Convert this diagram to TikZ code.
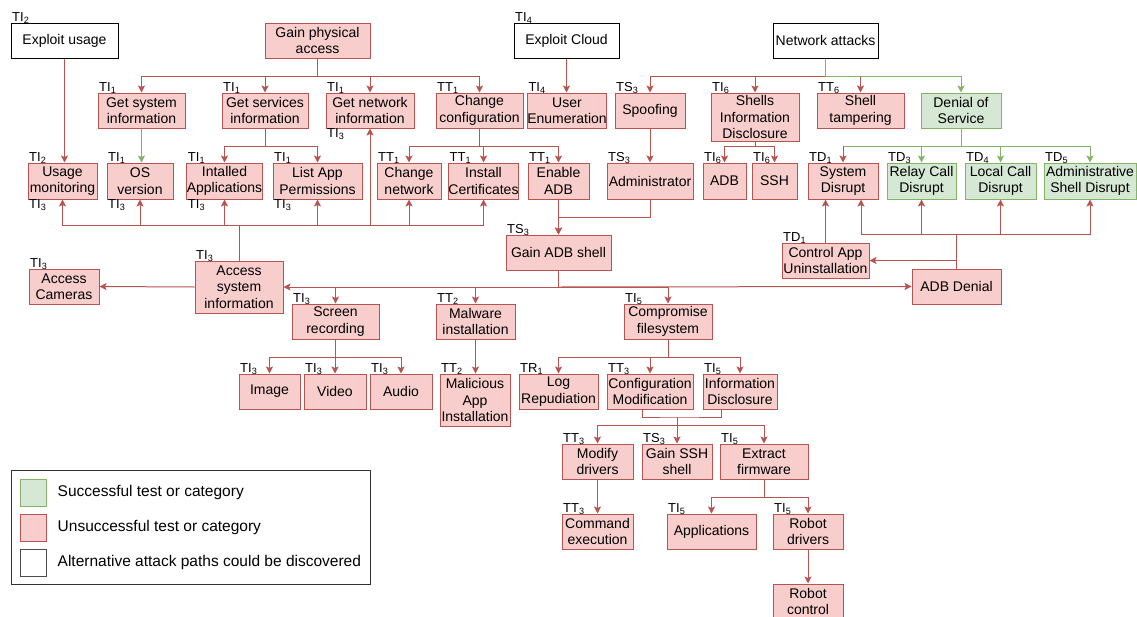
\documentclass[tikz,border=0pt]{standalone}
\usepackage{fontspec}
\setmainfont{Liberation Sans}
\usetikzlibrary{arrows.meta,positioning}
\definecolor{redfill}{HTML}{F8CECC}
\definecolor{redline}{HTML}{B85450}
\definecolor{greenfill}{HTML}{D5E8D4}
\definecolor{greenline}{HTML}{82B366}

\begin{document}
\begin{tikzpicture}[x=1pt, y=-1pt]
\tikzset{
  box/.style={draw=redline, fill=redfill, line width=1pt, align=center, inner xsep=0pt, inner ysep=1pt,
    font=\fontsize{14}{16.5}\selectfont, label distance=0pt},
  okbox/.style={box, draw=greenline, fill=greenfill},
  altbox/.style={box, draw=black, fill=white},
  sz/.style 2 args={minimum width=#1pt, minimum height=#2pt},
  tag/.style={font=\fontsize{13}{13}\selectfont, inner sep=0pt, anchor=base west, xshift=1.5pt, yshift=1pt},
  btag/.style={tag, anchor=north west, yshift=-0.5pt},
  link/.style={draw=redline, line width=1pt, -{Stealth[length=7pt,width=7pt,inset=1.5pt]}},
  oklink/.style={link, draw=greenline},
  lgtext/.style={font=\fontsize{15.5}{17}\selectfont, inner sep=0pt, anchor=west}
}
\useasboundingbox (0,0) rectangle (1137,616);
\fill[white] (0,0) rectangle (1137,616);

% roots
\node[altbox, sz={107}{35}, label={[tag]north west:TI\textsubscript{2}}] (expu) at (64.5,40.5) {Exploit usage};
\node[box, sz={105}{35}] (gpa) at (317.5,40.5) {Gain physical\\access};
\node[altbox, sz={105}{35}, label={[tag]north west:TI\textsubscript{4}}] (expc) at (566.5,40.5) {Exploit Cloud};
\node[altbox, sz={105}{35}] (neta) at (825.5,40.5) {Network attacks};

% second row
\node[box, sz={87}{35}, label={[tag]north west:TI\textsubscript{1}}] (gsi) at (141.5,110.5) {Get system\\information};
\node[box, sz={86}{35}, label={[tag]north west:TI\textsubscript{1}}] (gsv) at (265,110.5) {Get services\\information};
\node[box, sz={88}{35}, label={[tag]north west:TI\textsubscript{1}}, label={[btag]south west:TI\textsubscript{3}}] (gni) at (370,110.5) {Get network\\information};
\node[box, sz={87}{35}, label={[tag]north west:TT\textsubscript{1}}] (chc) at (479.5,110.5) {Change\\configuration};
\node[box, sz={78}{35}, label={[tag]north west:TI\textsubscript{4}}] (usr) at (567,110.5) {User\\Enumeration};
\node[box, sz={70}{35}, label={[tag]north west:TS\textsubscript{3}}] (spf) at (650,110.5) {Spoofing};
\node[box, sz={88}{48}, label={[tag]north west:TI\textsubscript{6}}] (sid) at (755,117) {Shells\\Information\\Disclosure};
\node[box, sz={87}{35}, label={[tag]north west:TT\textsubscript{6}}] (sht) at (860.5,110.5) {Shell\\tampering};
\node[okbox, sz={80}{35}] (dos) at (961,110.5) {Denial of\\Service};

% third row
\node[box, sz={69}{36}, label={[tag]north west:TI\textsubscript{2}}, label={[btag]south west:TI\textsubscript{3}}] (usm) at (62.5,181) {Usage\\monitoring};
\node[box, sz={66}{36}, label={[tag]north west:TI\textsubscript{1}}, label={[btag]south west:TI\textsubscript{3}}] (osv) at (140,181) {OS\\version};
\node[box, sz={75}{36}, label={[tag]north west:TI\textsubscript{1}}, label={[btag]south west:TI\textsubscript{3}}] (ina) at (224.5,181) {Intalled\\Applications};
\node[box, sz={89}{36}, label={[tag]north west:TI\textsubscript{1}}, label={[btag]south west:TI\textsubscript{3}}] (lap) at (317.5,181) {List App\\Permissions};
\node[box, sz={64}{36}, label={[tag]north west:TT\textsubscript{1}}] (chn) at (409,181) {Change\\network};
\node[box, sz={69}{36}, label={[tag]north west:TT\textsubscript{1}}] (inc) at (483.5,181) {Install\\Certificates};
\node[box, sz={61}{36}, label={[tag]north west:TT\textsubscript{1}}] (ena) at (558.5,181) {Enable\\ADB};
\node[box, sz={86}{36}, label={[tag]north west:TS\textsubscript{3}}] (adm) at (650,181) {Administrator};
\node[box, sz={43}{36}, label={[tag]north west:TI\textsubscript{6}}] (adb) at (724.5,181) {ADB};
\node[box, sz={45}{36}, label={[tag]north west:TI\textsubscript{6}}] (ssh) at (774.5,181) {SSH};
\node[box, sz={70}{36}, label={[tag]north west:TD\textsubscript{1}}] (sdr) at (843,181) {System\\Disrupt};
\node[okbox, sz={69}{36}, label={[tag]north west:TD\textsubscript{3}}] (rcd) at (921.5,181) {Relay Call\\Disrupt};
\node[okbox, sz={71}{36}, label={[tag]north west:TD\textsubscript{4}}] (lcd) at (1000.5,181) {Local Call\\Disrupt};
\node[okbox, sz={92}{36}, label={[tag]north west:TD\textsubscript{5}}] (asd) at (1090,181) {Administrative\\Shell Disrupt};

% middle
\node[box, sz={105}{35}, label={[tag]north west:TS\textsubscript{3}}] (gas) at (558.5,252.5) {Gain ADB shell};
\node[box, sz={88}{52}, label={[tag]north west:TI\textsubscript{3}}] (asi) at (239,287) {Access\\system\\information};
\node[box, sz={70}{35}, label={[tag]north west:TI\textsubscript{3}}] (acc) at (64,286.5) {Access\\Cameras};
\node[box, sz={87}{35}, label={[tag]north west:TD\textsubscript{1}}] (cau) at (825.5,260.5) {Control App\\Uninstallation};
\node[box, sz={89}{35}] (adn) at (956.5,286.5) {ADB Denial};

\node[box, sz={87}{35}, label={[tag]north west:TI\textsubscript{3}}] (scr) at (335.5,321.5) {Screen\\recording};
\node[box, sz={79}{35}, label={[tag]north west:TT\textsubscript{2}}] (mal) at (475.5,321.5) {Malware\\installation};
\node[box, sz={88}{35}, label={[tag]north west:TI\textsubscript{5}}] (cfs) at (668,321.5) {Compromise\\filesystem};

\node[box, sz={61}{35}, label={[tag]north west:TI\textsubscript{3}}] (img) at (269.5,391.5) {Image};
\node[box, sz={62}{35}, label={[tag]north west:TI\textsubscript{3}}] (vid) at (335,391.5) {Video};
\node[box, sz={62}{35}, label={[tag]north west:TI\textsubscript{3}}] (aud) at (401,391.5) {Audio};
\node[box, sz={70}{52}, label={[tag]north west:TT\textsubscript{2}}] (mai) at (475,400) {Malicious\\App\\Installation};
\node[box, sz={79}{35}, label={[tag]north west:TR\textsubscript{1}}] (lrp) at (558.5,391.5) {Log\\Repudiation};
\node[box, sz={86}{35}, label={[tag]north west:TT\textsubscript{3}}] (cmo) at (650,391.5) {Configuration\\Modification};
\node[box, sz={74}{35}, label={[tag]north west:TI\textsubscript{5}}] (ind) at (740,391.5) {Information\\Disclosure};

% bottom
\node[box, sz={71}{35}, label={[tag]north west:TT\textsubscript{3}}] (mdr) at (597.5,461.5) {Modify\\drivers};
\node[box, sz={70}{35}, label={[tag]north west:TS\textsubscript{3}}] (gss) at (677,461.5) {Gain SSH\\shell};
\node[box, sz={88}{35}, label={[tag]north west:TI\textsubscript{5}}] (exf) at (764,461.5) {Extract\\firmware};
\node[box, sz={71}{35}, label={[tag]north west:TT\textsubscript{3}}] (cex) at (597.5,531.5) {Command\\execution};
\node[box, sz={89}{35}, label={[tag]north west:TI\textsubscript{5}}] (app) at (711.5,531.5) {Applications};
\node[box, sz={70}{35}, label={[tag]north west:TI\textsubscript{5}}] (rdr) at (808,531.5) {Robot\\drivers};
\node[box, sz={70}{35}] (rct) at (808,601.5) {Robot\\control};

% bus points
\coordinate (gpaj) at (317.5,76);
\coordinate (netj) at (825.5,76);
\coordinate (gsvj) at (265,146);
\coordinate (chcj) at (479.5,146);
\coordinate (sidj) at (755,146);
\coordinate (dosj) at (961,146);
\coordinate (asij) at (239,225);
\coordinate (adnj) at (956.5,234);
\coordinate (gasj) at (558.5,287);
\coordinate (scrj) at (335.5,357);
\coordinate (cfsj) at (668,357);
\coordinate (cmoj) at (677,417);
\coordinate (mrgj) at (677,425);
\coordinate (exfj) at (764,497);

% top part
\draw[link] (expu.south) -- (expu.south |- usm.north);
\foreach \t in {gsi,gsv,gni,chc} \draw[link] (gpa.south) -- (gpaj) -| (\t.north);
\draw[oklink] (gsi.south) -- (gsi.south |- osv.north);
\foreach \t in {ina,lap} \draw[link] (gsv.south) -- (gsvj) -| (\t.north);
\foreach \t in {chn,inc,ena} \draw[link] (chc.south) -- (chcj) -| (\t.north);
\draw[link] (expc.south) -- (expc.south |- usr.north);
\foreach \t in {spf,sid,sht} \draw[link] (neta.south) -- (netj) -| (\t.north);
\draw[oklink] (neta.south) -- (netj) -| (dos.north);
\draw[link] (spf) -- (adm);
\foreach \t in {adb,ssh} \draw[link] (sid.south) -- (sidj) -| (\t.north);
\foreach \t in {rcd,lcd,asd} \draw[oklink] (dos.south) -- (dosj) -| (\t.north);
\draw[oklink, -] (dosj) -- (dosj -| sdr.north);
\draw[link] (dosj -| sdr.north) -- (sdr.north);

% to gain ADB shell
\draw[link] (ena) -- (gas);
\draw[link] (adm.south) -- ++(0,18) -| (gas.north);

% access system information
\foreach \t in {usm,osv,ina,lap,gni,chn,inc} \draw[link] (asi.north) -- (asij) -| (\t.south);
\draw[link] (asi.west) -- (acc.east);

% gain ADB shell
\draw[link] (gas.south) -- (gasj) -- (asi.east);
\draw[link] (gasj) -- (adn.west);
\foreach \t in {scr,mal,cfs} \draw[link] (gasj) -| (\t.north);

% ADB denial
\draw[link] (adn.north) -- (adnj) -| ([xshift=18pt]sdr.south);
\foreach \t in {rcd,lcd,asd} \draw[link] (adn.north) -- (adnj) -| (\t.south);
\draw[link] (adn.north) |- (cau.east);
\draw[link] (cau.north) -- (cau.north |- sdr.south);

% lower part
\foreach \t in {img,vid,aud} \draw[link] (scr.south) -- (scrj) -| (\t.north);
\draw[link] (mal.south) -- (mal.south |- mai.north);
\foreach \t in {lrp,cmo,ind} \draw[link] (cfs.south) -- (cfsj) -| (\t.north);
\draw[redline, line width=1pt] ([xshift=-8pt]cmo.south) |- (cmoj) -| ([xshift=-19pt]ind.south);
\foreach \t in {mdr,gss,exf} \draw[link] (cmoj) -- (mrgj) -| (\t.north);
\draw[link] (mdr) -- (cex);
\foreach \t in {app,rdr} \draw[link] (exf.south) -- (exfj) -| (\t.north);
\draw[link] (rdr) -- (rct);

% legend
\node[draw=black!80, line width=1pt, sz={359}{114}, inner sep=0pt] (lgd) at (190.5,527) {};
\node[okbox, sz={26}{27}] (sw1) at (33,492.5) {};
\node[box, sz={26}{27}] (sw2) at (33,527.5) {};
\node[altbox, draw=black!70, sz={26}{27}] (sw3) at (33,562.5) {};
\node[lgtext, right=11pt of sw1] (lt1) {Successful test or category};
\node[lgtext, right=11pt of sw2] (lt2) {Unsuccessful test or category};
\node[lgtext, right=11pt of sw3] (lt3) {Alternative attack paths could be discovered};
\end{tikzpicture}
\end{document}
